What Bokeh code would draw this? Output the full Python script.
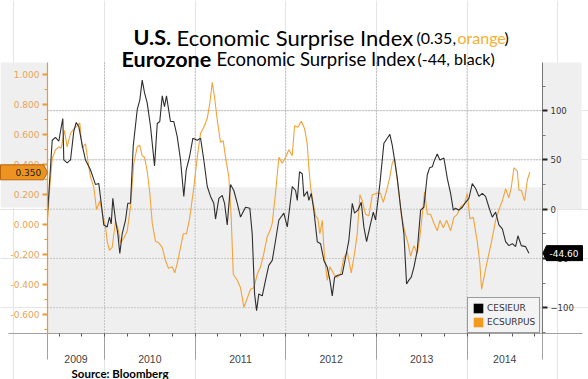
from bokeh.plotting import figure
from bokeh.models import (Range1d, LinearAxis, FixedTicker, NumeralTickFormatter,
                          Label, Legend, LegendItem)
from bokeh.embed import file_html
from bokeh.resources import INLINE

# ---------------- data ----------------
eu_t = [2009.374, 2009.423, 2009.459, 2009.496, 2009.522, 2009.540, 2009.551, 2009.588, 2009.625, 2009.661,
        2009.688, 2009.716, 2009.754, 2009.790, 2009.845, 2009.901, 2009.937, 2009.964, 2009.992, 2010.030,
        2010.055, 2010.074, 2010.092, 2010.121, 2010.147, 2010.169, 2010.195, 2010.232, 2010.257, 2010.287,
        2010.317, 2010.361, 2010.390, 2010.416, 2010.442, 2010.471, 2010.508, 2010.552, 2010.582, 2010.610,
        2010.637, 2010.662, 2010.684, 2010.728, 2010.765, 2010.802, 2010.839, 2010.875, 2010.902, 2010.938,
        2010.975, 2011.023, 2011.060, 2011.096, 2011.134, 2011.170, 2011.206, 2011.225, 2011.262, 2011.299,
        2011.325, 2011.354, 2011.391, 2011.427, 2011.465, 2011.501, 2011.556, 2011.604, 2011.630, 2011.656,
        2011.678, 2011.703, 2011.741, 2011.777, 2011.813, 2011.851, 2011.887, 2011.924, 2011.979, 2012.017,
        2012.072, 2012.108, 2012.127, 2012.152, 2012.182, 2012.200, 2012.237, 2012.255, 2012.281, 2012.310,
        2012.348, 2012.384, 2012.421, 2012.458, 2012.487, 2012.513, 2012.539, 2012.575, 2012.624, 2012.660,
        2012.696, 2012.734, 2012.759, 2012.796, 2012.833, 2012.862, 2012.892, 2012.928, 2012.966, 2012.991,
        2013.039, 2013.083, 2013.120, 2013.149, 2013.175, 2013.201, 2013.231, 2013.267, 2013.304, 2013.333,
        2013.359, 2013.385, 2013.414, 2013.451, 2013.488, 2013.524, 2013.562, 2013.587, 2013.617, 2013.642,
        2013.672, 2013.701, 2013.745, 2013.783, 2013.819, 2013.849, 2013.874, 2013.911, 2013.948, 2013.985,
        2014.021, 2014.058, 2014.095, 2014.131, 2014.169, 2014.205, 2014.242, 2014.279, 2014.316, 2014.352,
        2014.390, 2014.426, 2014.462, 2014.500, 2014.536, 2014.562, 2014.599, 2014.647, 2014.683]
eu_v = [-1, 70, 73, 69, 83, 92, 50, 47, 50, 79,
        88, 84, 65, 50, 40, 25, 26, 6, -16, -18,
        -8, -15, 11, -11, -25, -45, -25, -11, 6, 6,
        64, 101, 111, 131, 118, 108, 84, 44, 87, 89,
        115, 104, 115, 89, 89, 74, 50, 13, 40, 53,
        72, 70, 72, 50, 23, 13, 6, -10, 11, 14,
        6, -16, 25, 19, 6, -8, 2, 1, -25, -86,
        -103, -86, -88, -72, -57, -52, -32, -11, -4, -18,
        23, 19, 9, 38, 36, 13, 18, 9, 16, -1,
        -33, -35, -52, -59, -72, -88, -69, -67, -66, -49,
        -32, 6, -4, -1, 7, -18, -33, -18, -3, -11,
        26, 67, 72, 76, 65, 50, 31, 2, -25, -76,
        -72, -69, -59, -42, -1, 2, 35, 42, 43, 50,
        56, 50, 52, 31, 16, -1, 1, -1, 2, 7,
        11, 26, 21, 13, 16, 13, 2, -8, -3, -16,
        -20, -33, -37, -35, -38, -27, -37, -38, -44.6]

us_t = [2009.374, 2009.396, 2009.423, 2009.459, 2009.496, 2009.522, 2009.558, 2009.588, 2009.625, 2009.661,
        2009.699, 2009.727, 2009.754, 2009.790, 2009.816, 2009.845, 2009.882, 2009.912, 2009.948, 2009.986,
        2010.011, 2010.030, 2010.055, 2010.085, 2010.121, 2010.147, 2010.177, 2010.213, 2010.251, 2010.287,
        2010.323, 2010.361, 2010.390, 2010.416, 2010.442, 2010.471, 2010.500, 2010.527, 2010.563, 2010.599,
        2010.637, 2010.673, 2010.706, 2010.747, 2010.776, 2010.809, 2010.839, 2010.869, 2010.905, 2010.941,
        2010.986, 2011.023, 2011.060, 2011.096, 2011.134, 2011.162, 2011.189, 2011.214, 2011.244, 2011.280,
        2011.310, 2011.336, 2011.372, 2011.398, 2011.421, 2011.465, 2011.501, 2011.538, 2011.575, 2011.611,
        2011.648, 2011.685, 2011.722, 2011.758, 2011.795, 2011.825, 2011.851, 2011.887, 2011.924, 2011.961,
        2011.998, 2012.034, 2012.072, 2012.097, 2012.134, 2012.171, 2012.208, 2012.237, 2012.255, 2012.274,
        2012.304, 2012.329, 2012.355, 2012.376, 2012.403, 2012.428, 2012.458, 2012.487, 2012.531, 2012.568,
        2012.605, 2012.641, 2012.679, 2012.723, 2012.759, 2012.789, 2012.818, 2012.844, 2012.881, 2012.917,
        2012.955, 2013.010, 2013.046, 2013.076, 2013.113, 2013.149, 2013.175, 2013.201, 2013.231, 2013.275,
        2013.311, 2013.348, 2013.377, 2013.414, 2013.451, 2013.480, 2013.507, 2013.532, 2013.562, 2013.598,
        2013.635, 2013.672, 2013.701, 2013.738, 2013.775, 2013.819, 2013.855, 2013.893, 2013.929, 2013.974,
        2014.003, 2014.032, 2014.069, 2014.113, 2014.142, 2014.161, 2014.194, 2014.231, 2014.268, 2014.316,
        2014.352, 2014.390, 2014.426, 2014.462, 2014.489, 2014.518, 2014.555, 2014.573, 2014.599, 2014.636,
        2014.666, 2014.694]
us_v = [0.05, 0.25, 0.44, 0.50, 0.52, 0.51, 0.63, 0.52, 0.61, 0.64,
        0.66, 0.68, 0.51, 0.54, 0.43, 0.32, 0.25, 0.10, 0.16, 0.05,
        -0.01, -0.11, -0.17, -0.15, 0.02, -0.02, -0.12, -0.09, -0.04, 0.12,
        0.41, 0.52, 0.53, 0.46, 0.45, 0.36, 0.21, 0.01, -0.11, -0.12,
        -0.15, -0.24, -0.29, -0.28, -0.32, -0.24, -0.15, -0.06, -0.06, 0.05,
        0.25, 0.45, 0.61, 0.65, 0.71, 0.81, 0.95, 0.85, 0.70, 0.55,
        0.56, 0.45, 0.32, 0.05, -0.33, -0.37, -0.42, -0.55, -0.49, -0.43,
        -0.42, -0.33, -0.28, -0.19, -0.08, -0.04, 0.01, 0.21, 0.45, 0.41,
        0.45, 0.50, 0.46, 0.66, 0.65, 0.69, 0.64, 0.54, 0.38, 0.25,
        0.14, 0.06, 0.04, -0.06, 0.03, -0.22, -0.37, -0.28, -0.33, -0.35,
        -0.33, -0.22, -0.18, -0.32, -0.19, -0.06, 0.20, 0.16, 0.07, 0.06,
        0.20, 0.21, 0.21, 0.15, 0.23, 0.32, 0.41, 0.44, 0.30, 0.07,
        -0.04, -0.12, -0.21, -0.14, -0.19, -0.08, 0.07, 0.22, 0.07, 0.07,
        0.01, -0.04, 0.03, -0.02, 0.03, -0.04, 0.05, 0.07, 0.12, 0.14,
        0.21, 0.04, 0.05, -0.11, -0.26, -0.43, -0.33, -0.22, -0.12, 0.03,
        0.10, 0.16, 0.24, 0.18, 0.25, 0.38, 0.36, 0.23, 0.23, 0.16,
        0.30, 0.35]

years = [2009, 2010, 2011, 2012, 2013, 2014]
eu_ticks = [-100, -50, 0, 50, 100]
eu_minor = [-125, -75, -25, 25, 75, 125]
us_ticks = [-0.6, -0.4, -0.2, 0.0, 0.2, 0.4, 0.6, 0.8, 1.0]
us_minor = [-0.7, -0.5, -0.3, -0.1, 0.1, 0.3, 0.5, 0.7, 0.9]
eu_name = "CESIEUR"
us_name = "ECSURPUS"

# ---------------- layout / style constants ----------------
W, H = 588, 379
PX_X = 90.625      # px per year
PX_EU = 0.985      # px per EU index point
PX_US = 150.0      # px per US unit
XMIN = 2008.8524   # canvas left edge
X0, X1 = 2009.371, 2014.833          # plot area in years
EU_BOT, EU_TOP = -126.2, 148.9       # plot area on right axis
US_BOT, US_TOP = -0.7247, 1.082      # plot area on left axis
ORANGE = "#f2a33a"
ORANGE_AX = "#eb9a32"
BLACK = "#2e2e2e"
GREY = "#efefef"
GRID = "#9a9a9a"
NAN = float("nan")

p = figure(width=W, height=H,
           x_range=Range1d(XMIN, XMIN + W / PX_X),
           y_range=Range1d(208.7 / PX_EU - H / PX_EU, 208.7 / PX_EU),
           x_axis_location=None, y_axis_location=None, min_border=0,
           output_backend="svg", toolbar_location=None)
p.extra_y_ranges = {"us": Range1d(224.3 / PX_US - H / PX_US, 224.3 / PX_US)}
p.outline_line_color = None
p.background_fill_color = "white"
p.border_fill_color = "white"

# shaded areas
p.quad(left=[X0], right=[X1], bottom=[US_BOT], top=[0.25], y_range_name="us",
       fill_color=GREY, line_color=None)
p.quad(left=[X1], right=[XMIN + 581 / PX_X], bottom=[0], top=[EU_TOP],
       fill_color=GREY, line_color=None)
p.quad(left=[XMIN], right=[X0], bottom=[0.115], top=[US_TOP], y_range_name="us",
       fill_color=GREY, line_color=None)

# dotted grid
gx = years[1:]
p.segment(x0=gx, y0=[EU_BOT] * len(gx), x1=gx, y1=[EU_TOP] * len(gx),
          line_color=GRID, line_dash="1 2", line_width=1)
p.segment(x0=[X0] * len(eu_ticks), y0=eu_ticks, x1=[X1] * len(eu_ticks), y1=eu_ticks,
          line_color=GRID, line_dash="1 2", line_width=1)

# series
r_us = p.line(us_t, us_v, color=ORANGE, line_width=1.1, y_range_name="us")
r_eu = p.line(eu_t, eu_v, color=BLACK, line_width=1.1)

# right axis (EU)
ra = LinearAxis(fixed_location=X1, bounds=(EU_BOT, EU_TOP),
                ticker=FixedTicker(ticks=eu_ticks, minor_ticks=eu_minor))
ra.axis_line_color = "#777777"
ra.major_tick_line_color = "#222222"
ra.major_tick_line_width = 2
ra.major_tick_out = 5
ra.major_tick_in = 0
ra.minor_tick_line_color = "#777777"
ra.minor_tick_out = 3
ra.minor_tick_in = 0
ra.major_label_text_font = "DejaVu Sans"
ra.major_label_text_font_size = "8.5px"
ra.major_label_text_color = "#333333"
ra.major_label_standoff = 3
p.add_layout(ra, "right")

# left axis (US)
la = LinearAxis(y_range_name="us", fixed_location=X0, bounds=(US_BOT, US_TOP),
                ticker=FixedTicker(ticks=us_ticks, minor_ticks=us_minor),
                formatter=NumeralTickFormatter(format="0.000"))
la.axis_line_color = ORANGE_AX
la.axis_line_width = 1.2
la.major_tick_line_color = ORANGE_AX
la.major_tick_line_width = 2
la.major_tick_out = 5
la.major_tick_in = 0
la.minor_tick_line_color = ORANGE_AX
la.minor_tick_out = 3
la.minor_tick_in = 0
la.major_label_text_font = "DejaVu Sans"
la.major_label_text_font_size = "9px"
la.major_label_text_color = "#e6a35c"
la.major_label_standoff = 3
p.add_layout(la, "left")

# bottom axis with year separators and quarter ticks
ticks = [X0] + years[1:] + [X1]
minor = [y + q * 0.25 for y in years for q in range(4) if X0 < y + q * 0.25 < X1]
ba = LinearAxis(fixed_location=EU_BOT, bounds=(XMIN + 8 / PX_X, XMIN + 582 / PX_X),
                ticker=FixedTicker(ticks=ticks, minor_ticks=minor))
ba.major_label_text_color = None
ba.axis_line_color = "#a0a0a0"
ba.major_tick_line_color = "#a0a0a0"
ba.major_tick_out = 26
ba.major_tick_in = 0
ba.minor_tick_line_color = "#555555"
ba.minor_tick_out = 3
ba.minor_tick_in = 0
p.add_layout(ba, "below")

# year labels
for y in years:
    mid = (max(y, X0) + min(y + 1, X1)) / 2
    p.add_layout(Label(x=mid, y=H - 358, x_units="data", y_units="screen", text=str(y),
                       text_align="center", text_baseline="alphabetic",
                       text_font="Liberation Sans", text_font_size="10.5px", text_color="#444444"))

# value flags
hu = 7.5 / PX_US
yu = us_v[-1]
p.patch([XMIN, X0 - 4 / PX_X, X0, X0 - 4 / PX_X, XMIN], [yu - hu, yu - hu, yu, yu + hu, yu + hu],
        y_range_name="us", fill_color="#ee9320", line_color="#b8650c", line_width=1, level="annotation")
p.add_layout(Label(x=15, y=yu, y_range_name="us", x_units="screen", text=f"{yu:.3f}",
                   text_align="left", text_baseline="middle", text_font="DejaVu Sans",
                   text_font_size="9px", text_color="#1a1a1a", level="overlay"))
he = 7.5 / PX_EU
ye = eu_v[-1]
p.patch([X1 + 0.5 / PX_X, X1 + 4 / PX_X, XMIN + 582 / PX_X, XMIN + 582 / PX_X, X1 + 4 / PX_X],
        [ye, ye + he, ye + he, ye - he, ye - he],
        fill_color="black", line_color="black", level="annotation")
p.add_layout(Label(x=549, y=ye, x_units="screen", text=f"{ye:.2f}",
                   text_align="left", text_baseline="middle", text_font="DejaVu Sans",
                   text_font_size="9px", text_color="white", level="overlay"))

# legend with square swatches (single NaN quads: drawn only in the legend)
sw_eu = p.quad(left=[NAN], right=[NAN], top=[NAN], bottom=[NAN], fill_color="black", line_color=None)
sw_us = p.quad(left=[NAN], right=[NAN], top=[NAN], bottom=[NAN], fill_color="#f39a1e", line_color=None)
leg = Legend(items=[LegendItem(label=eu_name, renderers=[sw_eu]),
                    LegendItem(label=us_name, renderers=[sw_us])],
             location=(467, H - 333), padding=4, spacing=2, margin=0,
             glyph_width=12, glyph_height=12, label_height=12, label_standoff=3,
             label_text_font="DejaVu Sans", label_text_font_size="9px", label_text_color="#333333",
             background_fill_color="#f3f3f3", background_fill_alpha=1,
             border_line_color="#444444", border_line_width=1.2)
p.add_layout(leg, "center")

# title (mixed styles)
def txt(x, y, s, size, bold=False, color="black", align="left"):
    p.add_layout(Label(x=x, y=H - y, x_units="screen", y_units="screen", text=s, text_align=align,
                       text_baseline="alphabetic", text_font="Lato", text_font_size=size,
                       text_font_style="bold" if bold else "normal", text_color=color))

txt(133, 36.5, "U.S.", "21.5px", bold=True)
txt(176, 36.5, "Economic Surprise Index", "22px")
txt(416, 36.5, "(0.35,", "16px")
txt(457, 36.5, "orange", "16px", color="#f2b136")
txt(504, 36.5, ")", "16px")
txt(121, 58, "Eurozone", "21.5px", bold=True)
txt(216, 58, "Economic Surprise Index", "18.5px")
txt(417, 58, "(-44, black)", "16px")

txt(71, 373, "Source:  Bloomberg", "11.5px", bold=True)

open("out.html", "w").write(file_html(p, INLINE))
